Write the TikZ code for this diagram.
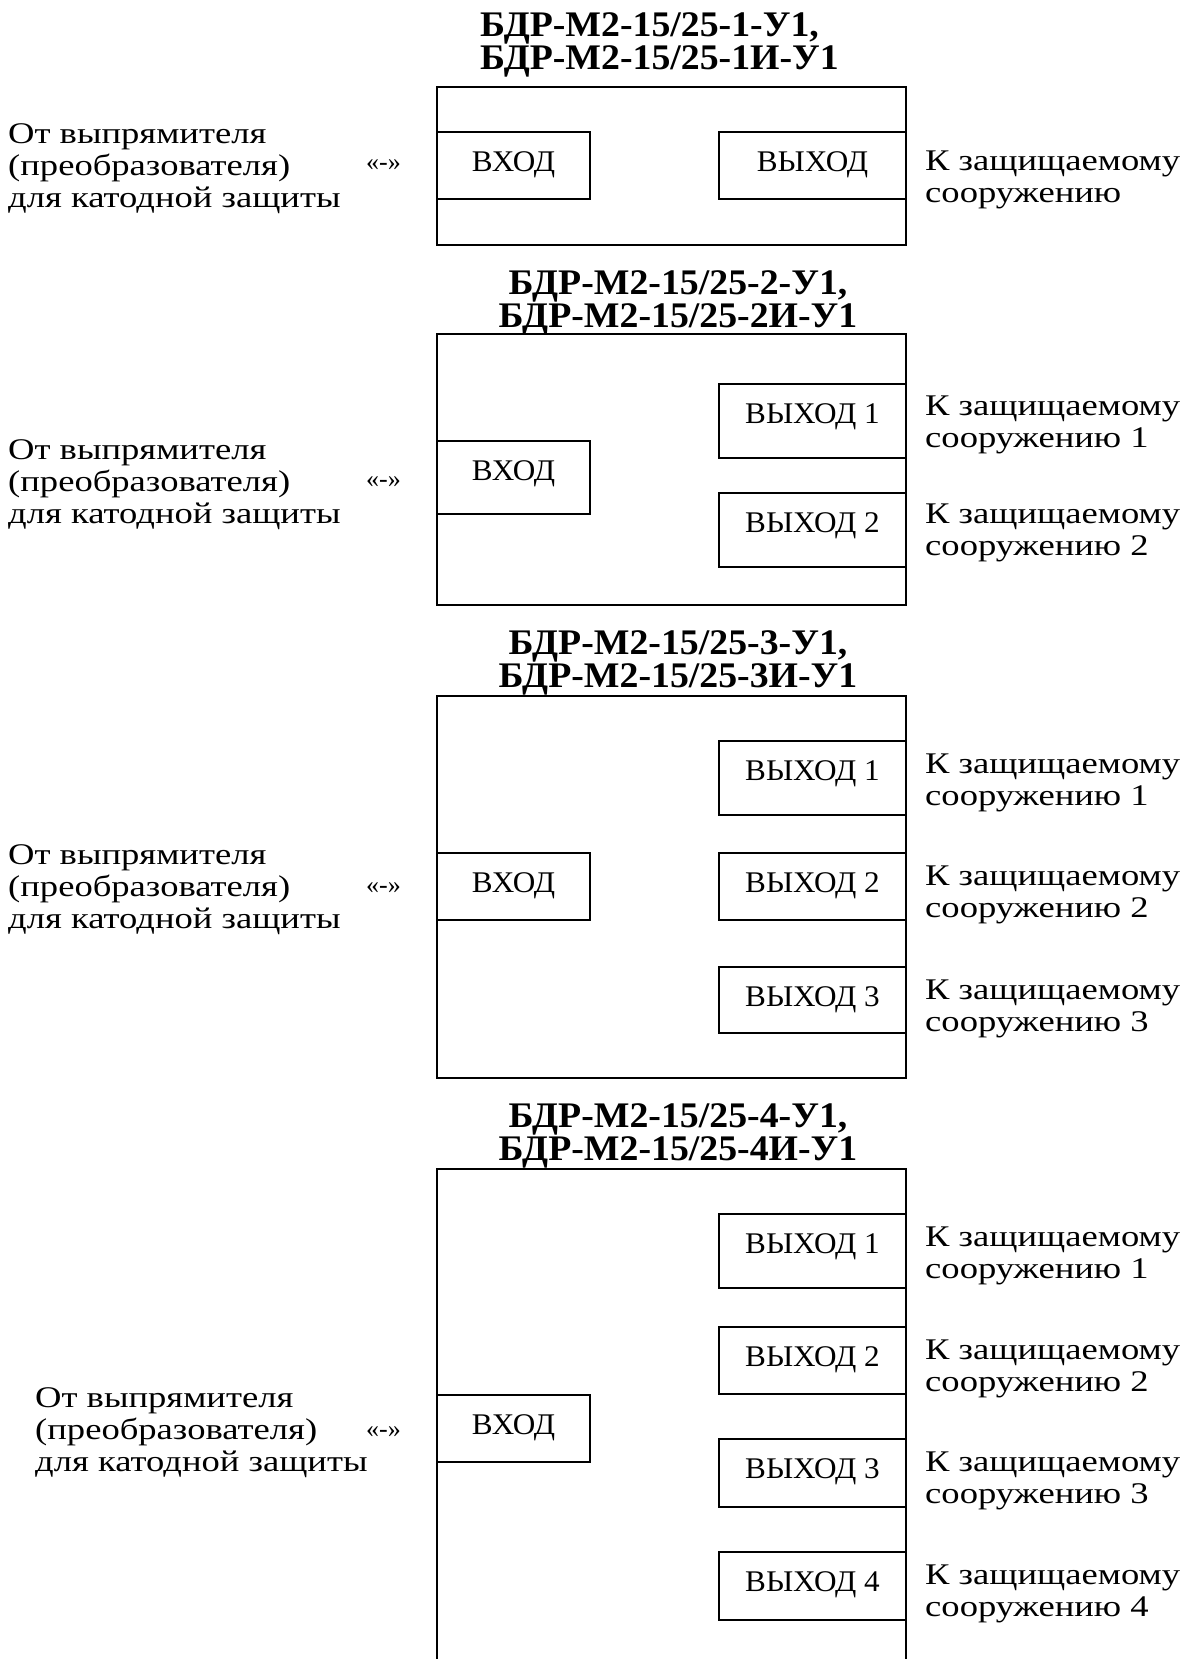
\documentclass[tikz,border=0pt]{standalone}
\usepackage{fontspec}
\setmainfont{Liberation Serif}
\newfontfamily\lblfont{Liberation Serif}[FakeStretch=1.22]
\newfontfamily\boxfont{Liberation Serif}[FakeStretch=1.04]
\newfontfamily\ttlfont{Liberation Serif}[FakeStretch=1.05]
\usetikzlibrary{calc}
\tikzset{
  frame/.style={draw, line width=1.3pt, outer sep=0pt, inner sep=0pt, anchor=north west},
  txt/.style={font=\lblfont\fontsize{30}{32}\selectfont, inner sep=0pt, anchor=base west},
  btxt/.style={font=\boxfont\fontsize{30}{32}\selectfont, inner sep=0pt, anchor=base},
  ttl/.style={font=\ttlfont\bfseries\fontsize{36}{38}\selectfont, inner sep=0pt},
  minus/.style={font=\fontsize{26}{30}\selectfont, inner sep=0pt, anchor=base west},
  edge/.style={line width=1.3pt}
}
\newcommand\twoline[5]{%
  \node[txt] (#1a) at (#2,#3) {#4};
  \node[txt] (#1b) at (#2,#3+32) {#5};}
\newcommand\leftblock[3]{%
  \node[txt] (#1a) at (#2,#3) {От выпрямителя};
  \node[txt] (#1b) at (#2,#3+32) {(преобразователя)};
  \node[txt] (#1c) at (#2,#3+64) {для катодной защиты};}
\newcommand\boxlabel[2]{%
  \node[btxt] (#1t) at ($(#1.north)+(0,39)$) {#2};}
\begin{document}
\begin{tikzpicture}[x=1pt,y=-1pt]
\useasboundingbox (0,0) rectangle (1183,1659);

% ---------- Block 1 ----------
\node[ttl, anchor=base west] (T1a) at (480,37) {БДР-М2-15/25-1-У1,};
\node[ttl, anchor=base west] (T1b) at (480,70) {БДР-М2-15/25-1И-У1};
\node[frame, minimum width=469pt, minimum height=158pt] (B1) at (437,87) {};
\node[frame, minimum width=153pt, minimum height=67pt] (B1in) at (437,132) {};
\node[frame, minimum width=187pt, minimum height=67pt] (B1o) at (719,132) {};
\boxlabel{B1in}{ВХОД}
\boxlabel{B1o}{ВЫХОД}
\leftblock{L1}{8}{143}
\node[minus] (M1) at (366,170) {«-»};
\twoline{R1}{925}{170}{К защищаемому}{сооружению}

% ---------- Block 2 ----------
\node[ttl, anchor=base] (T2a) at (678,294) {БДР-М2-15/25-2-У1,};
\node[ttl, anchor=base] (T2b) at (678,327) {БДР-М2-15/25-2И-У1};
\node[frame, minimum width=469pt, minimum height=271pt] (B2) at (437,334) {};
\node[frame, minimum width=153pt, minimum height=73pt] (B2in) at (437,441) {};
\node[frame, minimum width=187pt, minimum height=74pt] (B2o1) at (719,384) {};
\node[frame, minimum width=187pt, minimum height=74pt] (B2o2) at (719,493) {};
\boxlabel{B2in}{ВХОД}
\boxlabel{B2o1}{ВЫХОД 1}
\boxlabel{B2o2}{ВЫХОД 2}
\leftblock{L2}{8}{459}
\node[minus] (M2) at (366,487) {«-»};
\twoline{R2x}{925}{415}{К защищаемому}{сооружению 1}
\twoline{R2y}{925}{523}{К защищаемому}{сооружению 2}

% ---------- Block 3 ----------
\node[ttl, anchor=base] (T3a) at (678,654) {БДР-М2-15/25-3-У1,};
\node[ttl, anchor=base] (T3b) at (678,687) {БДР-М2-15/25-3И-У1};
\node[frame, minimum width=469pt, minimum height=382pt] (B3) at (437,696) {};
\node[frame, minimum width=153pt, minimum height=67pt] (B3in) at (437,853) {};
\node[frame, minimum width=187pt, minimum height=74pt] (B3o1) at (719,741) {};
\node[frame, minimum width=187pt, minimum height=67pt] (B3o2) at (719,853) {};
\node[frame, minimum width=187pt, minimum height=66pt] (B3o3) at (719,967) {};
\boxlabel{B3in}{ВХОД}
\boxlabel{B3o1}{ВЫХОД 1}
\boxlabel{B3o2}{ВЫХОД 2}
\boxlabel{B3o3}{ВЫХОД 3}
\leftblock{L3}{8}{864}
\node[minus] (M3) at (366,893) {«-»};
\twoline{R3x}{925}{773}{К защищаемому}{сооружению 1}
\twoline{R3y}{925}{885}{К защищаемому}{сооружению 2}
\twoline{R3z}{925}{999}{К защищаемому}{сооружению 3}

% ---------- Block 4 ----------
\node[ttl, anchor=base] (T4a) at (678,1127) {БДР-М2-15/25-4-У1,};
\node[ttl, anchor=base] (T4b) at (678,1160) {БДР-М2-15/25-4И-У1};
\coordinate (B4bl) at (437,1659);
\coordinate (B4tl) at (437,1169);
\coordinate (B4tr) at (906,1169);
\coordinate (B4br) at (906,1659);
\draw[edge] (B4bl) -- (B4tl) -- (B4tr) -- (B4br);
\node[frame, minimum width=153pt, minimum height=67pt] (B4in) at (437,1395) {};
\node[frame, minimum width=187pt, minimum height=74pt] (B4o1) at (719,1214) {};
\node[frame, minimum width=187pt, minimum height=67pt] (B4o2) at (719,1327) {};
\node[frame, minimum width=187pt, minimum height=68pt] (B4o3) at (719,1439) {};
\node[frame, minimum width=187pt, minimum height=68pt] (B4o4) at (719,1552) {};
\boxlabel{B4in}{ВХОД}
\boxlabel{B4o1}{ВЫХОД 1}
\boxlabel{B4o2}{ВЫХОД 2}
\boxlabel{B4o3}{ВЫХОД 3}
\boxlabel{B4o4}{ВЫХОД 4}
\leftblock{L4}{35}{1407}
\node[minus] (M4) at (366,1437) {«-»};
\twoline{R4w}{925}{1246}{К защищаемому}{сооружению 1}
\twoline{R4x}{925}{1359}{К защищаемому}{сооружению 2}
\twoline{R4y}{925}{1471}{К защищаемому}{сооружению 3}
\twoline{R4z}{925}{1584}{К защищаемому}{сооружению 4}
\end{tikzpicture}
\end{document}
